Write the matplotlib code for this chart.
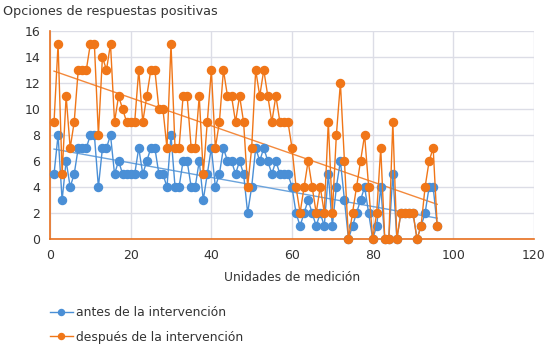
import numpy as np
import matplotlib
matplotlib.use("Agg")
import matplotlib.pyplot as plt

x_units = list(range(1, 97))
antes = [5, 8, 3, 6, 4, 5, 7, 7, 7, 8, 8, 4, 7, 7, 8, 5, 6, 5, 5, 5,
         5, 7, 5, 6, 7, 7, 5, 5, 4, 8, 4, 4, 6, 6, 4, 4, 6, 3, 5, 7,
         4, 5, 7, 6, 6, 5, 6, 5, 2, 4, 7, 6, 7, 6, 5, 6, 5, 5, 5, 4,
         2, 1, 2, 3, 2, 1, 2, 1, 5, 1, 4, 6, 3, 0, 1, 2, 3, 4, 2, 0,
         1, 4, 0, 0, 5, 0, 2, 2, 2, 2, 0, 1, 2, 4, 4, 1]
despues = [9, 15, 5, 11, 7, 9, 13, 13, 13, 15, 15, 8, 14, 13, 15, 9, 11, 10, 9, 9,
           9, 13, 9, 11, 13, 13, 10, 10, 7, 15, 7, 7, 11, 11, 7, 7, 11, 5, 9, 13,
           7, 9, 13, 11, 11, 9, 11, 9, 4, 7, 13, 11, 13, 11, 9, 11, 9, 9, 9, 7,
           4, 2, 4, 6, 4, 2, 4, 2, 9, 2, 8, 12, 6, 0, 2, 4, 6, 8, 4, 0,
           2, 7, 0, 0, 9, 0, 2, 2, 2, 2, 0, 1, 4, 6, 7, 1]
series_names = ["antes de la intervención", "después de la intervención"]
x_ticks = [0, 20, 40, 60, 80, 100, 120]
y_ticks = [0, 2, 4, 6, 8, 10, 12, 14, 16]

BLUE = "#4a8fd6"
ORANGE = "#f07618"
BLUE_T = "#6aa3dc"
ORANGE_T = "#f3893c"
GRID = "#dcdde6"
TXT = "#333333"

fig = plt.figure(figsize=(5.47, 3.55), dpi=100)
ax = fig.add_axes([50/547, 1 - 239/355, (534-50)/547, (239-31)/355])

x = np.array(x_units, dtype=float)
for vals, col, tcol, name in [(antes, BLUE, BLUE_T, series_names[0]),
                              (despues, ORANGE, ORANGE_T, series_names[1])]:
    v = np.array(vals, dtype=float)
    ax.plot(x, v, color=col, lw=1.0, marker="o", ms=5.8, mec=col, mfc=col,
            label=name, zorder=3, clip_on=False)
    k, b = np.polyfit(x, v, 1)
    ax.plot([x[0], x[-1]], [k*x[0]+b, k*x[-1]+b], color=tcol, lw=1.0, zorder=2)

ax.set_xlim(0, 120)
ax.set_ylim(0, 16)
ax.set_xticks(x_ticks)
ax.set_yticks(y_ticks)
ax.grid(True, color=GRID, lw=1.0, zorder=0)
ax.set_axisbelow(True)
for s in ["top", "right"]:
    ax.spines[s].set_visible(False)
for s in ["left", "bottom"]:
    ax.spines[s].set_color("#e8701e")
    ax.spines[s].set_linewidth(1.2)
ax.tick_params(length=0, labelsize=9, colors=TXT, pad=7)
ax.set_xlabel("Unidades de medición", fontsize=8.8, color=TXT, labelpad=7)
fig.text(3/547, 1 - 12/355, "Opciones de respuestas positivas", fontsize=9.2,
         color=TXT, ha="left", va="center")

handles, labels = ax.get_legend_handles_labels()
leg = fig.legend(handles, labels, loc="upper left", bbox_to_anchor=(50/547, 1 - 306/355),
                 frameon=False, fontsize=8.9, handlelength=1.85, handletextpad=0.25,
                 labelspacing=0.95, markerscale=0.75, borderpad=0, borderaxespad=0)
for t in leg.get_texts():
    t.set_color(TXT)

fig.savefig("out.png", dpi=100)
